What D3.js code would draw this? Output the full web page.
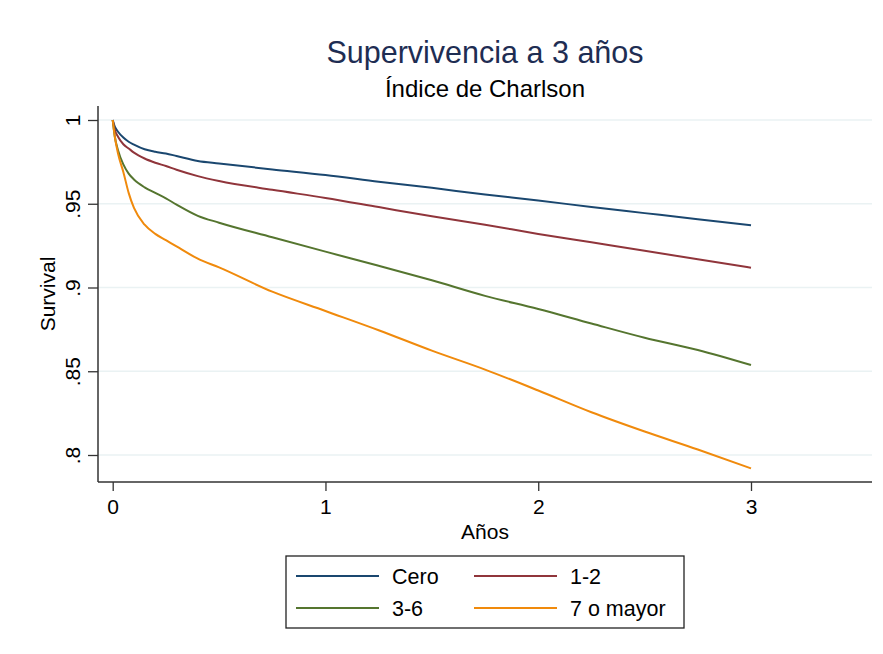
<!DOCTYPE html>
<html>
<head>
<meta charset="utf-8">
<script src="https://cdn.jsdelivr.net/npm/d3@7"></script>
<style>
  body { margin: 0; background: #ffffff; }
  svg text { font-family: "Liberation Sans", Arial, sans-serif; }
</style>
</head>
<body>
<svg id="chart" width="883" height="654"></svg>
<script>
// ---- data ----
const times = [0, 0.01, 0.025, 0.05, 0.075, 0.1, 0.15, 0.2, 0.25, 0.3, 0.4, 0.5, 0.75, 1, 1.25, 1.5, 1.75, 2, 2.25, 2.5, 2.75, 3];
const cero     = [1, 0.996, 0.993, 0.9895, 0.987, 0.9853, 0.9825, 0.981, 0.980, 0.9785, 0.9755, 0.974, 0.9705, 0.9672, 0.9632, 0.9595, 0.9555, 0.952, 0.948, 0.9444, 0.9408, 0.9371];
const unoDos   = [1, 0.994, 0.990, 0.9855, 0.983, 0.9805, 0.977, 0.9745, 0.9725, 0.9703, 0.9665, 0.9636, 0.9583, 0.9535, 0.948, 0.9425, 0.9375, 0.932, 0.927, 0.922, 0.9168, 0.9118];
const tresSeis = [1, 0.990, 0.982, 0.9735, 0.968, 0.9645, 0.9598, 0.9565, 0.9532, 0.9495, 0.9428, 0.9387, 0.930, 0.9214, 0.913, 0.9043, 0.895, 0.8872, 0.8785, 0.870, 0.8627, 0.8537];
const sieteMas = [1, 0.990, 0.980, 0.969, 0.9565, 0.9475, 0.9375, 0.932, 0.9283, 0.9245, 0.9172, 0.912, 0.8975, 0.886, 0.8745, 0.8623, 0.851, 0.8385, 0.8255, 0.814, 0.8033, 0.792];
const seriesNames = ["Cero", "1-2", "3-6", "7 o mayor"];
const xTicks = [0, 1, 2, 3];
const yTicks = [0.8, 0.85, 0.9, 0.95, 1];
const yTickLabels = [".8", ".85", ".9", ".95", "1"];

const seriesValues = [cero, unoDos, tresSeis, sieteMas];
const colors = ["#1a476f", "#90353b", "#55752f", "#f08a0c"];

// ---- layout ----
const svg = d3.select("#chart");
const plotLeft = 98, plotRight = 872, plotTop = 106, plotBottom = 482;

const x = d3.scaleLinear().domain([0, 3]).range([112.7, 751]);
const y = d3.scaleLinear().domain([0.8, 1]).range([455, 120]);

// gridlines
svg.append("g").selectAll("line").data(yTicks).join("line")
  .attr("x1", plotLeft).attr("x2", plotRight)
  .attr("y1", d => y(d)).attr("y2", d => y(d))
  .attr("stroke", "#eaf2f3").attr("stroke-width", 1.5);

// lines
const line = d3.line().x((d, i) => x(times[i])).y(d => y(d)).curve(d3.curveMonotoneX);
svg.append("g").selectAll("path").data(seriesValues).join("path")
  .attr("d", d => line(d))
  .attr("fill", "none")
  .attr("stroke", (d, i) => colors[i])
  .attr("stroke-width", 2)
  .attr("stroke-linejoin", "round");

// y axis
const yAxis = d3.axisLeft(y).tickValues(yTicks).tickSize(10).tickPadding(8)
  .tickFormat((d, i) => yTickLabels[i]);
const gy = svg.append("g").attr("transform", `translate(${plotLeft},0)`).call(yAxis);
gy.select(".domain").attr("d", `M0,${plotTop}V${plotBottom}`).attr("stroke", "#333").attr("stroke-width", 1.5);
gy.selectAll(".tick line").attr("stroke", "#333").attr("stroke-width", 1.3);
gy.selectAll(".tick text")
  .attr("font-size", 21).attr("fill", "#000")
  .attr("text-anchor", "middle")
  .attr("x", null).attr("dy", null)
  .attr("transform", "translate(-18,0) rotate(-90)")
  .attr("y", 0);

// x axis
const xAxis = d3.axisBottom(x).tickValues(xTicks).tickSize(9).tickPadding(8).tickFormat(d3.format("d"));
const gx = svg.append("g").attr("transform", `translate(0,${plotBottom})`).call(xAxis);
gx.select(".domain").attr("d", `M${plotLeft},0H${plotRight}`).attr("stroke", "#333").attr("stroke-width", 1.5);
gx.selectAll(".tick line").attr("stroke", "#333").attr("stroke-width", 1.3);
gx.selectAll(".tick text").attr("font-size", 21).attr("fill", "#000");

// axis titles
svg.append("text").attr("x", 485).attr("y", 539).attr("text-anchor", "middle")
  .attr("font-size", 21).attr("fill", "#000").text("Años");
svg.append("text").attr("transform", "translate(55,294) rotate(-90)").attr("text-anchor", "middle")
  .attr("font-size", 21).attr("fill", "#000").text("Survival");

// titles
svg.append("text").attr("x", 485).attr("y", 63).attr("text-anchor", "middle")
  .attr("font-size", 30.5).attr("fill", "#1e2d53").text("Supervivencia a 3 años");
svg.append("text").attr("x", 485).attr("y", 97).attr("text-anchor", "middle")
  .attr("font-size", 24).attr("fill", "#000").text("Índice de Charlson");

// legend
const lg = svg.append("g");
lg.append("rect").attr("x", 286).attr("y", 556).attr("width", 398).attr("height", 72)
  .attr("fill", "#fff").attr("stroke", "#222").attr("stroke-width", 1.3);
const legendPos = [[296, 576], [474, 576], [296, 608], [474, 608]];
seriesNames.forEach((name, i) => {
  const [lx, ly] = legendPos[i];
  lg.append("line").attr("x1", lx).attr("x2", lx + 83).attr("y1", ly).attr("y2", ly)
    .attr("stroke", colors[i]).attr("stroke-width", 2);
  lg.append("text").attr("x", lx + 96).attr("y", ly + 8).attr("font-size", 21.5)
    .attr("fill", "#000").text(name);
});
</script>
</body>
</html>
